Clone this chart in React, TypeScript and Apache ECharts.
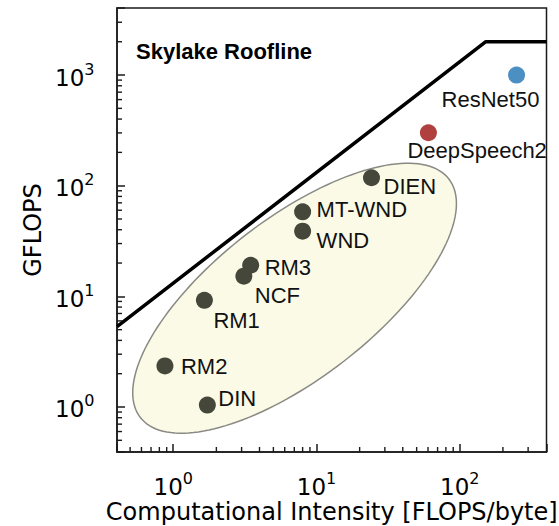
import React, { useEffect, useRef } from "react";
import * as echarts from "echarts";

// ---- data ----
const MODELS = ["ResNet50", "DeepSpeech2", "DIEN", "MT-WND", "WND", "RM3", "NCF", "RM1", "RM2", "DIN"];
const INTENSITY = [249, 60.4, 24.2, 8.0, 8.0, 3.47, 3.11, 1.65, 0.875, 1.73];
const GFLOPS = [1000, 301, 118, 58, 38.8, 19.1, 15.2, 9.2, 2.35, 1.04];
const ROOF_X = [0.405, 152, 403];
const ROOF_Y = [5.33, 2000, 2000];
const X_RANGE = [0.405, 403];
const Y_RANGE = [0.392, 4036];
const X_MINOR = [0.5, 0.6, 0.7, 0.8, 0.9, 2, 3, 4, 5, 6, 7, 8, 9, 20, 30, 40, 50, 60, 70, 80, 90, 200, 300];
const Y_MINOR = [0.5, 0.6, 0.7, 0.8, 0.9, 2, 3, 4, 5, 6, 7, 8, 9, 20, 30, 40, 50, 60, 70, 80, 90, 200, 300, 400, 500, 600, 700, 800, 900, 2000, 3000];
const CLUSTER_CENTER = [7.03, 9.62];
const TITLE = "Skylake Roofline";
const X_NAME = "Computational Intensity [FLOPS/byte]";
const Y_NAME = "GFLOPS";

// ---- styles ----
const DOT_COLOR = "#45473a";
const SPECIAL_COLORS: Record<string, string> = { ResNet50: "#4b8fc3", DeepSpeech2: "#b0403f" };
const LABEL_OFFSETS: Record<string, number[]> = {
  ResNet50: [-75, 24],
  DeepSpeech2: [-21, 17.5],
  DIEN: [12, 9],
  "MT-WND": [14, -2.7],
  WND: [14, 9],
  RM3: [14, 2.7],
  NCF: [11, 19],
  RM1: [9, 20],
  RM2: [16, 1],
  DIN: [11, -6.7],
};
const TICK_FONT = "DejaVu Sans";
const LABEL_FONT = "Liberation Sans";
const FRAME = "#1a1a1a";

function powLabel(v: number) {
  const e = Math.log10(v);
  const r = Math.round(e);
  if (Math.abs(e - r) > 1e-6) return "";
  return `{b|10}{s|${r}}`;
}

const richSup = {
  b: { fontSize: 23, fontFamily: TICK_FONT, color: "#000", lineHeight: 28, verticalAlign: "bottom" },
  s: { fontSize: 16, fontFamily: TICK_FONT, color: "#000", lineHeight: 16, verticalAlign: "top" },
};

export default function App() {
  const ref = useRef<HTMLDivElement>(null);
  useEffect(() => {
    if (!ref.current) return;
    const chart = echarts.init(ref.current, undefined, { renderer: "svg" });
    const A = 195, B = 80, TH = (37.7 * Math.PI) / 180;
    const option: any = {
      animation: false,
      backgroundColor: "#fff",
      grid: {
        left: 117, right: 12.5, top: 8, bottom: 74,
        show: true, borderColor: FRAME, borderWidth: 1.5, backgroundColor: "transparent",
        outerBoundsMode: "none",
      },
      xAxis: {
        type: "log", logBase: 10, min: X_RANGE[0], max: X_RANGE[1],
        name: X_NAME, nameLocation: "middle", nameGap: 48, nameMoveOverlap: false,
        nameTextStyle: { fontSize: 24, fontFamily: TICK_FONT, color: "#000" },
        axisLine: { show: true, lineStyle: { color: FRAME, width: 1.5 } },
        axisTick: { show: true, inside: true, length: 8, lineStyle: { color: FRAME, width: 1.5 } },
        axisLabel: { margin: 18.5, formatter: powLabel, rich: richSup },
        splitLine: { show: false },
        minorTick: { show: false },
      },
      yAxis: {
        type: "log", logBase: 10, min: Y_RANGE[0], max: Y_RANGE[1],
        name: Y_NAME, nameLocation: "middle", nameGap: 72, nameMoveOverlap: false,
        nameTextStyle: { fontSize: 24, fontFamily: TICK_FONT, color: "#000" },
        axisLine: { show: true, lineStyle: { color: FRAME, width: 1.5 } },
        axisTick: { show: true, inside: true, length: 8, lineStyle: { color: FRAME, width: 1.5 } },
        axisLabel: { margin: 22.5, formatter: powLabel, rich: richSup },
        splitLine: { show: false },
        minorTick: { show: false },
      },
      graphic: [
        {
          type: "text", x: 136, y: 51.5, z: 10,
          style: { text: TITLE, fontSize: 22, fontWeight: "bold", fontFamily: LABEL_FONT, fill: "#000", align: "left", verticalAlign: "middle" },
        },
      ],
      series: [
        {
          type: "custom", name: "cluster", z: 1, silent: true,
          data: [CLUSTER_CENTER],
          renderItem: (params: any, api: any) => {
            const c = api.coord([api.value(0), api.value(1)]);
            const pts: number[][] = [];
            const N = 160;
            for (let i = 0; i < N; i++) {
              const t = (i / N) * Math.PI * 2;
              const x = A * Math.cos(t), y = B * Math.sin(t);
              pts.push([c[0] + x * Math.cos(TH) - y * Math.sin(TH), c[1] - (x * Math.sin(TH) + y * Math.cos(TH))]);
            }
            return { type: "polygon", shape: { points: pts }, style: { fill: "#fafae6", stroke: "#8a8a84", lineWidth: 1.5 } };
          },
        },
        {
          type: "line", name: "roofline", z: 3, silent: true, symbol: "none", clip: true,
          data: ROOF_X.map((x, i) => [x, ROOF_Y[i]]),
          lineStyle: { color: "#000", width: 3.5 },
        },
        {
          type: "scatter", name: "models", z: 4, symbolSize: 17,
          itemStyle: { opacity: 1 },
          data: MODELS.map((m, i) => ({
            name: m,
            value: [INTENSITY[i], GFLOPS[i]],
            itemStyle: { color: SPECIAL_COLORS[m] || DOT_COLOR, opacity: 1 },
            label: { offset: LABEL_OFFSETS[m] },
          })),
          label: {
            show: true, position: "inside", align: "left", verticalAlign: "middle",
            formatter: "{b}", fontSize: 22, fontFamily: LABEL_FONT, color: "#111",
            textBorderWidth: 0, textBorderColor: "transparent", opacity: 1,
          },
        },
        {
          type: "custom", name: "xminor", z: 5, silent: true, clip: false,
          data: X_MINOR.map((v) => [v, 1]),
          renderItem: (params: any, api: any) => {
            const p = api.coord([api.value(0), 1]);
            const cs = params.coordSys;
            const yb = cs.y + cs.height;
            return { type: "line", shape: { x1: p[0], y1: yb, x2: p[0], y2: yb - 5 }, style: { stroke: FRAME, lineWidth: 1.4 } };
          },
        },
        {
          type: "custom", name: "yminor", z: 5, silent: true, clip: false,
          data: Y_MINOR.map((v) => [1, v]),
          renderItem: (params: any, api: any) => {
            const p = api.coord([1, api.value(1)]);
            const cs = params.coordSys;
            return { type: "line", shape: { x1: cs.x, y1: p[1], x2: cs.x + 5, y2: p[1] }, style: { stroke: FRAME, lineWidth: 1.4 } };
          },
        },
      ],
    };
    chart.setOption(option);
    return () => chart.dispose();
  }, []);
  return <div ref={ref} style={{ position: "fixed", left: 0, top: 0, width: 559, height: 526 }} />;
}
